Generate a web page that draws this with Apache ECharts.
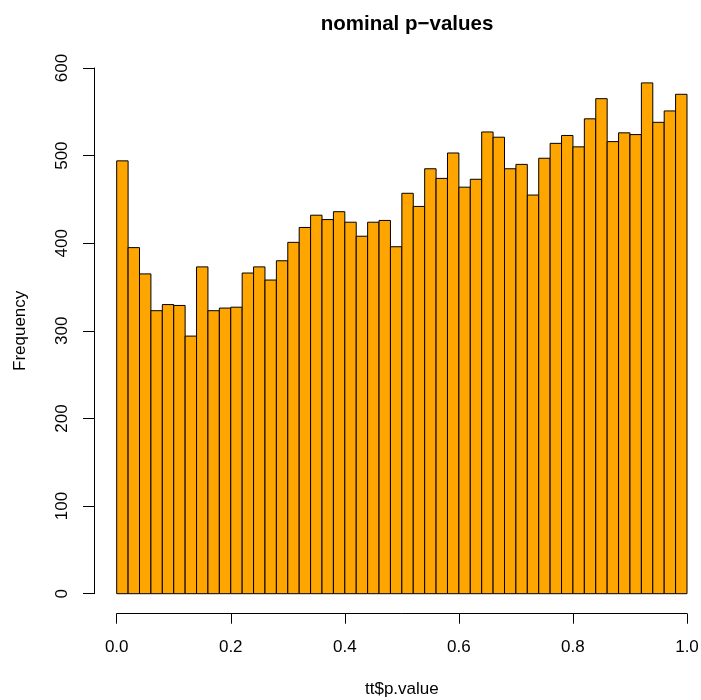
<!DOCTYPE html>
<html>
<head>
<meta charset="utf-8">
<script src="https://cdn.jsdelivr.net/npm/echarts@6/dist/echarts.min.js"></script>
<style>html,body{margin:0;padding:0;background:#fff}#c{width:701px;height:700px}</style>
</head>
<body>
<div id="c"></div>
<script>
var binWidth = 0.02;
var counts = [494,395,365,323,330,329,294,373,323,326,327,366,373,358,380,401,418,432,427,436,
              424,408,424,426,396,457,442,485,474,503,464,473,527,521,485,490,455,497,514,523,
              510,542,565,516,526,524,583,538,551,570];
var xTicks = [0, 0.2, 0.4, 0.6, 0.8, 1.0];
var yTicks = [0, 100, 200, 300, 400, 500, 600];

var data = counts.map(function (c, i) { return [i * binWidth, (i + 1) * binWidth, c]; });

var chart = echarts.init(document.getElementById('c'), null, {renderer: 'canvas'});
var font = 'Liberation Sans, Arial, Helvetica, sans-serif';
chart.setOption({
  animation: false,
  title: {
    text: 'nominal p\u2212values', left: 402, textAlign: 'center', top: 9,
    textStyle: {fontFamily: font, fontWeight: 'bold', fontSize: 20.5, color: '#000'}
  },
  grid: {left: 116.7, right: 14, top: 68, bottom: 106.3, containLabel: false, outerBoundsMode: 'none'},
  xAxis: {
    type: 'value', min: 0, max: 1, interval: 0.2, offset: 20,
    name: 'tt$p.value', nameLocation: 'middle', nameGap: 67,
    nameTextStyle: {fontFamily: font, fontSize: 17, color: '#000'},
    axisLine: {show: true, onZero: false, lineStyle: {color: '#000', width: 1}},
    axisTick: {show: true, length: 10, lineStyle: {color: '#000'}},
    axisLabel: {fontFamily: font, fontSize: 17, color: '#000', margin: 25,
      formatter: function (v) { return v.toFixed(1); }},
    splitLine: {show: false}
  },
  yAxis: {
    type: 'value', min: 0, max: 600, interval: 100, offset: 22.7,
    name: 'Frequency', nameLocation: 'middle', nameGap: 65, nameRotate: 90,
    nameTextStyle: {fontFamily: font, fontSize: 17, color: '#000'},
    axisLine: {show: true, onZero: false, lineStyle: {color: '#000', width: 1}},
    axisTick: {show: true, length: 11, lineStyle: {color: '#000'}},
    axisLabel: {fontFamily: font, fontSize: 17, color: '#000', margin: 23, rotate: 90},
    splitLine: {show: false}
  },
  series: [{
    type: 'custom',
    data: data,
    encode: {x: [0, 1], y: 2},
    renderItem: function (params, api) {
      var p0 = api.coord([api.value(0), 0]);
      var p1 = api.coord([api.value(1), api.value(2)]);
      return {
        type: 'rect',
        shape: {x: p0[0], y: p1[1], width: p1[0] - p0[0], height: p0[1] - p1[1]},
        style: {fill: '#FFA500', stroke: '#000', lineWidth: 1}
      };
    }
  }]
});
</script>
</body>
</html>
